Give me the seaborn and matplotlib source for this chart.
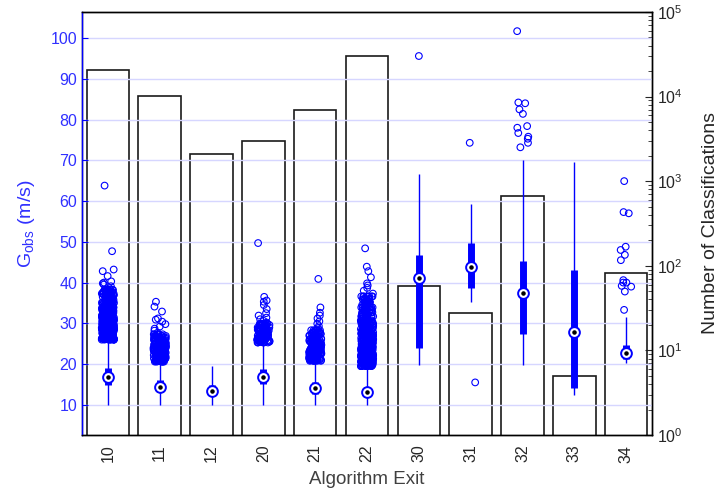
import matplotlib
matplotlib.use("Agg")
import matplotlib.pyplot as plt
import numpy as np
import pandas as pd
import seaborn as sns

# categories on the x axis
exits = ["10", "11", "12", "20", "21", "22", "30", "31", "32", "33", "34"]

# number of classifications per exit (right axis, log)
counts = [20600, 10200, 2100, 3000, 6900, 30200, 58, 28, 670, 5, 82]

# box statistics for G_obs (m/s)
whis_lo = [10.0, 10.0, 10.0, 10.0, 10.0, 10.0, 19.8, 35.3, 19.8, 12.3, 20.3]
q1 = [14.8, 13.1, 12.3, 15.0, 12.6, 12.1, 23.9, 38.7, 27.4, 14.2, 21.3]
medians = [16.8, 14.4, 13.5, 16.9, 14.1, 13.2, 41.1, 43.8, 37.4, 27.9, 22.8]
q3 = [19.0, 16.0, 14.9, 18.9, 15.6, 14.4, 46.8, 49.7, 45.3, 43.1, 24.8]
whis_hi = [25.8, 20.6, 19.6, 25.2, 20.8, 19.5, 66.6, 59.3, 70.0, 69.6, 31.5]

# dense outlier cores (each value stands for several overlapping points)
core_10 = [26.0, 26.2, 26.3, 26.5, 26.7, 26.8, 27.0, 27.2, 27.3, 27.5, 27.7, 27.9,
           28.0, 28.2, 28.4, 28.6, 28.7, 28.9, 29.1, 29.3, 29.5, 29.6, 29.8, 30.0,
           30.2, 30.4, 30.6, 30.8, 31.0, 31.2, 31.4, 31.6, 31.9, 32.1, 32.3, 32.6,
           32.8, 33.1, 33.3, 33.6, 33.9, 34.2, 34.5, 34.8, 35.1, 35.5, 35.8, 36.2,
           36.5, 36.9, 37.3, 37.7, 38.2]
core_11 = [20.6, 20.8, 21.0, 21.2, 21.4, 21.6, 21.8, 22.0, 22.2, 22.4, 22.6, 22.8,
           23.0, 23.2, 23.4, 23.6, 23.8, 24.0, 24.3, 24.5, 24.8, 25.0, 25.3, 25.6,
           25.9, 26.2, 26.5, 26.9, 27.3]
core_20 = [25.3, 25.5, 25.7, 25.9, 26.1, 26.3, 26.5, 26.7, 27.0, 27.2, 27.4, 27.7,
           27.9, 28.2, 28.4, 28.7, 29.0, 29.3, 29.6, 29.9]
core_21 = [20.8, 21.0, 21.2, 21.4, 21.6, 21.8, 22.0, 22.2, 22.4, 22.6, 22.8, 23.0,
           23.2, 23.5, 23.7, 23.9, 24.2, 24.4, 24.7, 25.0, 25.3, 25.6, 25.9, 26.2,
           26.6, 27.0, 27.4, 27.8, 28.3]
core_22 = [19.5, 19.7, 19.9, 20.1, 20.3, 20.5, 20.7, 20.9, 21.1, 21.3, 21.5, 21.8,
           22.0, 22.2, 22.5, 22.7, 23.0, 23.2, 23.5, 23.7, 24.0, 24.3, 24.6, 24.9,
           25.2, 25.5, 25.8, 26.1, 26.4, 26.8, 27.1, 27.5, 27.8, 28.2, 28.6, 29.0,
           29.4, 29.8, 30.3, 30.7, 31.2, 31.7, 32.2, 32.7, 33.3, 33.9, 34.5, 35.2,
           35.9, 36.6]
core_mult = {"10": 8, "11": 6, "20": 5, "21": 6, "22": 8}
cores = {"10": core_10, "11": core_11, "20": core_20, "21": core_21, "22": core_22}

# scattered single outliers
out_10 = [38.6, 39.1, 39.5, 40.0, 40.3, 39.8, 41.6, 42.8, 43.2, 47.7, 63.8]
out_11 = [27.7, 28.2, 28.7, 29.2, 29.8, 30.4, 30.9, 31.2, 32.9, 34.1, 35.3]
out_20 = [30.2, 30.6, 31.0, 31.4, 31.9, 32.5, 33.5, 34.5, 35.3, 35.6, 36.5, 49.7]
out_21 = [28.8, 29.3, 29.9, 30.5, 31.2, 31.9, 32.6, 33.9, 40.9]
out_22 = [37.3, 38.0, 38.7, 39.3, 39.8, 41.3, 42.8, 43.9, 48.4]
out_30 = [95.6]
out_31 = [15.5, 74.3]
out_32 = [101.7, 84.2, 84.0, 82.5, 81.4, 78.4, 78.0, 76.7, 75.8, 75.3, 74.3, 73.2]
out_34 = [33.3, 37.8, 39.0, 39.2, 40.0, 40.0, 40.6, 45.5, 46.8, 48.0, 48.8,
          57.0, 57.3, 64.9]
singles = {"10": out_10, "11": out_11, "20": out_20, "21": out_21, "22": out_22,
           "30": out_30, "31": out_31, "32": out_32, "34": out_34}

rows = []
for k, vals in cores.items():
    rows += [(k, v) for v in vals for _ in range(core_mult[k])]
for k, vals in singles.items():
    rows += [(k, v) for v in vals]
df_out = pd.DataFrame(rows, columns=["exit", "g"])
df_cnt = pd.DataFrame({"exit": exits, "n": counts})

sns.set_style("white")
plt.rcParams["font.family"] = ["Liberation Sans", "DejaVu Sans"]
plt.rcParams["mathtext.default"] = "regular"

BLUE = "#0000ff"
TXT_BLUE = "#3030ff"

fig = plt.figure(figsize=(7.18, 4.92), dpi=100, facecolor="white")
ax = fig.add_axes([0.1142, 0.1159, 0.794, 0.8597])
ax2 = ax.twinx()

# bars on the log axis
sns.barplot(data=df_cnt, x="exit", y="n", order=exits, ax=ax2, fill=False,
            edgecolor="#1a1a1a", linewidth=1.2, width=0.82, errorbar=None)
ax2.set_yscale("log")
ax2.set_ylim(1, 1e5)

# outliers as jittered hollow circles
np.random.seed(4)
sns.stripplot(data=df_out, x="exit", y="g", order=exits, ax=ax, jitter=0.12,
              size=4.8, linewidth=0.8, color=BLUE, edgecolor=BLUE)
for coll in ax.collections:
    coll.set_facecolor("none")
    coll.set_edgecolor(BLUE)

pos = np.arange(len(exits))
ax.vlines(pos, whis_lo, whis_hi, color=BLUE, lw=1.0, zorder=3)
ax.vlines(pos, q1, q3, color=BLUE, lw=5.0, zorder=3)
ax.scatter(pos, medians, s=60, facecolor="white", edgecolor=BLUE, lw=1.4, zorder=4)
ax.scatter(pos, medians, s=5, color="black", zorder=5)

ax.set_zorder(ax2.get_zorder() + 1)
ax.patch.set_visible(False)

ax.set_xlim(-0.5, len(exits) - 0.5)
ax.set_ylim(2.6, 106.4)
ax.set_yticks(range(10, 101, 10))
ax.yaxis.grid(True, color="#d6d6ff", lw=1.0)
ax.set_axisbelow(True)

ax.tick_params(axis="y", direction="in", length=4, color=BLUE, labelcolor=TXT_BLUE,
               labelsize=11.5, left=True)
ax.tick_params(axis="x", length=0, labelsize=11.5, labelcolor="#262626", rotation=90, pad=7)
ax2.tick_params(axis="y", which="major", direction="in", length=5, labelsize=11.5,
                labelcolor="#262626", right=True)
ax2.tick_params(axis="y", which="minor", direction="in", length=3, right=True)

ax.set_xlabel("Algorithm Exit", fontsize=13.5, color="#404040", labelpad=6)
ax.set_ylabel("G$_{obs}$ (m/s)", fontsize=14, color=TXT_BLUE, labelpad=10)
ax2.set_ylabel("Number of Classifications", fontsize=14, color="#262626", labelpad=14)

for a in (ax, ax2):
    for s in a.spines.values():
        s.set_color("black")
        s.set_linewidth(1.0)
ax.spines["left"].set_color(BLUE)

fig.savefig("out.png", dpi=100, facecolor="white")
